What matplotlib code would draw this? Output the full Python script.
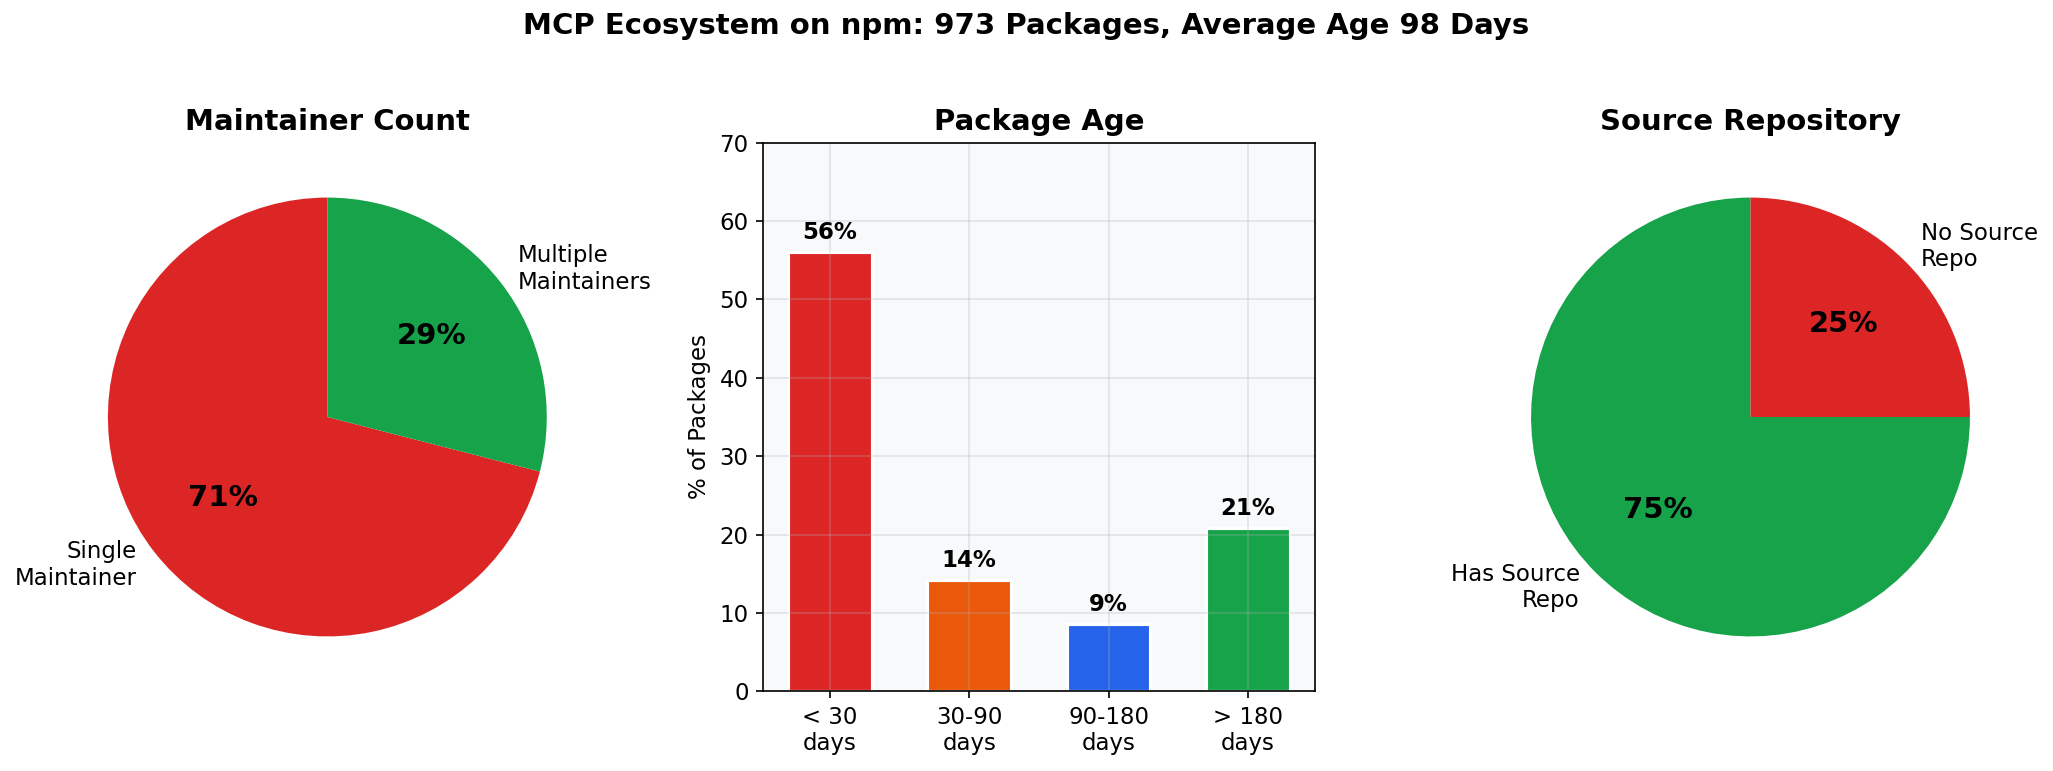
import matplotlib
matplotlib.use("Agg")
import matplotlib.pyplot as plt
import numpy as np

# data
maint_labels = ["Single\nMaintainer", "Multiple\nMaintainers"]
maint_values = [71, 29]

age_labels = ["< 30\ndays", "30-90\ndays", "90-180\ndays", "> 180\ndays"]
age_values = [56.1, 14.2, 8.6, 20.8]

repo_labels = ["Has Source\nRepo", "No Source\nRepo"]
repo_values = [75, 25]

RED = "#dc2626"
ORANGE = "#ea580c"
BLUE = "#2563eb"
GREEN = "#16a34a"

fig, axes = plt.subplots(1, 3, figsize=(2053 / 150, 771 / 150), dpi=150)
fig.subplots_adjust(left=0.0251, right=0.987, bottom=0.1034, top=0.8149, wspace=0.29)
fig.suptitle("MCP Ecosystem on npm: 973 Packages, Average Age 98 Days",
             fontsize=14, fontweight="bold", y=0.985)

# maintainer pie
ax = axes[0]
wedges, texts, autotexts = ax.pie(maint_values, labels=maint_labels, colors=[RED, GREEN],
                                  startangle=90, autopct="%1.0f%%",
                                  textprops={"fontsize": 11})
for t in autotexts:
    t.set_fontsize(14)
    t.set_fontweight("bold")
ax.set_title("Maintainer Count", fontsize=14, fontweight="bold")

# package age bars
ax = axes[1]
x = np.arange(len(age_labels))
bars = ax.bar(x, age_values, width=0.6, color=[RED, ORANGE, BLUE, GREEN],
              edgecolor="white", linewidth=1.5)
for b, v in zip(bars, age_values):
    ax.text(b.get_x() + b.get_width() / 2, v + 1, f"{v:.0f}%",
            ha="center", va="bottom", fontsize=11, fontweight="bold")
ax.set_xticks(x)
ax.set_xticklabels(age_labels, fontsize=11)
ax.tick_params(axis="y", labelsize=11)
ax.set_ylim(0, 70)
ax.set_ylabel("% of Packages", fontsize=11)
ax.set_facecolor("#f8f9fa")
ax.grid(True, alpha=0.3)
ax.set_title("Package Age", fontsize=14, fontweight="bold")

# source repo pie
ax = axes[2]
wedges, texts, autotexts = ax.pie(repo_values, labels=repo_labels, colors=[GREEN, RED],
                                  startangle=90, autopct="%1.0f%%",
                                  textprops={"fontsize": 11})
for t in autotexts:
    t.set_fontsize(14)
    t.set_fontweight("bold")
ax.set_title("Source Repository", fontsize=14, fontweight="bold")

fig.savefig("out.png", dpi=150)
